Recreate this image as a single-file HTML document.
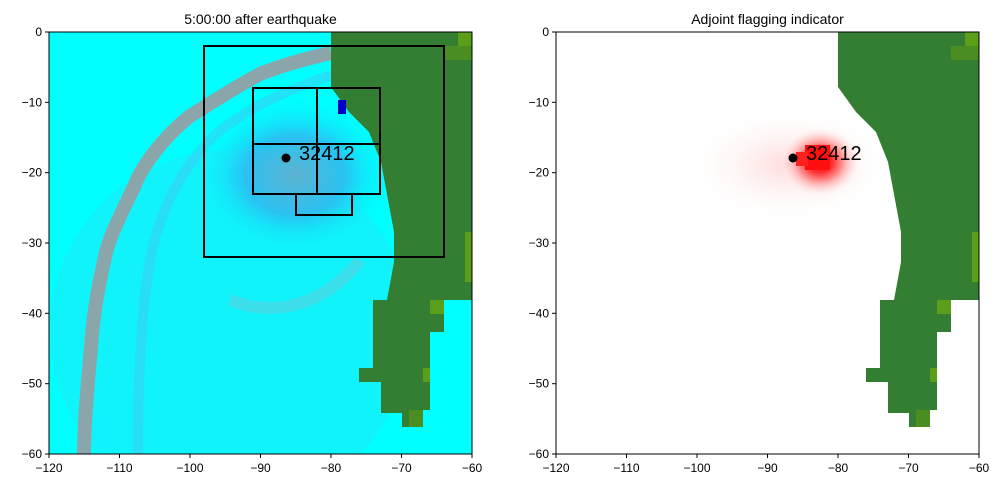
<!DOCTYPE html>
<html><head><meta charset="utf-8"><style>
body{margin:0;background:#fff;}
svg text{font-family:"Liberation Sans","DejaVu Sans",sans-serif;}
</style></head><body>
<svg width="1003" height="488" xmlns="http://www.w3.org/2000/svg">
<defs>
<clipPath id="cl"><rect x="49" y="32" width="423" height="422"/></clipPath>
<clipPath id="cr"><rect x="556" y="32" width="423" height="422"/></clipPath>
<radialGradient id="sw" cx="0.5" cy="0.5" r="0.5">
<stop offset="0" stop-color="#6aa8c8"/><stop offset="0.5" stop-color="#30b8f0"/><stop offset="1" stop-color="#00ffff" stop-opacity="0"/></radialGradient>
<radialGradient id="rb" cx="0.5" cy="0.5" r="0.5">
<stop offset="0" stop-color="#ff0000"/><stop offset="0.3" stop-color="#ff3030"/><stop offset="0.6" stop-color="#ffb0b0"/><stop offset="1" stop-color="#ffffff" stop-opacity="0"/></radialGradient>
<radialGradient id="ph" cx="0.5" cy="0.5" r="0.5">
<stop offset="0" stop-color="#ffd8d8"/><stop offset="1" stop-color="#ffffff" stop-opacity="0"/></radialGradient>
<g id="land">
<polygon fill="#347e34" points="282,0 423,0 423,268 395,268 395,300 381,300 381,378 367,378 367,395 353,395 353,381 332,381 332,350 310,350 310,336 324,336 324,268 338,268 345,230 345,200 332,130 320,100 300,80 282,55"/>
<rect x="409" y="0" width="14" height="14" fill="#5a9e1a"/>
<rect x="395" y="14" width="28" height="14" fill="#4a8e22"/>
<rect x="416" y="200" width="7" height="50" fill="#5a9e1a"/>
<rect x="381" y="268" width="14" height="14" fill="#5a9e1a"/>
<rect x="374" y="336" width="7" height="14" fill="#5a9e1a"/>
<rect x="360" y="378" width="14" height="17" fill="#4a8e22"/>
</g>
</defs>
<!-- left panel -->
<g clip-path="url(#cl)">
<rect x="49" y="32" width="423" height="422" fill="#00ffff"/>
<ellipse cx="230" cy="330" rx="180" ry="180" fill="#20e8f8" opacity="0.5"/>
<ellipse cx="295" cy="175" rx="100" ry="80" fill="url(#sw)" opacity="0.85"/>
<path d="M331,53 C300,60 280,66 260,74 C230,90 200,110 190,116 C160,140 140,170 134,187 C118,220 108,240 105,257 C95,300 92,330 91,348 C86,400 84,430 84,454" fill="none" stroke="#8aa6aa" stroke-width="14"/>
<path d="M331,75 C290,90 250,105 215,135 C180,170 160,210 150,260 C140,320 138,390 138,454" fill="none" stroke="#40c8f0" stroke-width="10" opacity="0.5"/>
<path d="M230,300 C280,320 330,300 360,260" fill="none" stroke="#80c0d0" stroke-width="12" opacity="0.4"/>
<g transform="translate(49,32)"><use href="#land"/></g>
<rect x="338" y="100" width="8" height="14" fill="#0000c8"/>
<rect x="204" y="46" width="240" height="211" fill="none" stroke="#000" stroke-width="2"/>
<rect x="253" y="88" width="127" height="106" fill="none" stroke="#000" stroke-width="2"/>
<line x1="317" y1="88" x2="317" y2="194" stroke="#000" stroke-width="2"/>
<line x1="253" y1="144" x2="380" y2="144" stroke="#000" stroke-width="2"/>
<rect x="296" y="194" width="56" height="21" fill="none" stroke="#000" stroke-width="2"/>
</g>
<circle cx="286" cy="158" r="4.5" fill="#000"/>
<text x="299" y="160" font-size="20">32412</text>
<rect x="49" y="32" width="423" height="422" fill="none" stroke="#000" stroke-width="1"/>
<text x="260.5" y="24" font-size="14" text-anchor="middle">5:00:00 after earthquake</text>
<!-- right panel -->
<g clip-path="url(#cr)">
<rect x="556" y="32" width="423" height="422" fill="#fff"/>
<ellipse cx="790" cy="165" rx="110" ry="60" fill="url(#ph)"/>
<ellipse cx="820" cy="162" rx="42" ry="36" fill="url(#rb)"/>
<rect x="805" y="145" width="25" height="25" fill="#ff1010"/>
<rect x="796" y="152" width="12" height="14" fill="#ff2020"/>
<g transform="translate(556,32)"><use href="#land"/></g>
</g>
<circle cx="793" cy="158" r="4.5" fill="#000"/>
<text x="806" y="160" font-size="20">32412</text>
<rect x="556" y="32" width="423" height="422" fill="none" stroke="#000" stroke-width="1"/>
<text x="767.5" y="24" font-size="14" text-anchor="middle">Adjoint flagging indicator</text>
<!-- ticks -->
<g font-size="12" fill="#000">
<g stroke="#000">
<line x1="49" y1="454" x2="49" y2="458"/><line x1="119.5" y1="454" x2="119.5" y2="458"/><line x1="190" y1="454" x2="190" y2="458"/><line x1="260.5" y1="454" x2="260.5" y2="458"/><line x1="331" y1="454" x2="331" y2="458"/><line x1="401.5" y1="454" x2="401.5" y2="458"/><line x1="472" y1="454" x2="472" y2="458"/>
<line x1="556" y1="454" x2="556" y2="458"/><line x1="626.5" y1="454" x2="626.5" y2="458"/><line x1="697" y1="454" x2="697" y2="458"/><line x1="767.5" y1="454" x2="767.5" y2="458"/><line x1="838" y1="454" x2="838" y2="458"/><line x1="908.5" y1="454" x2="908.5" y2="458"/><line x1="979" y1="454" x2="979" y2="458"/>
<line x1="45" y1="32" x2="49" y2="32"/><line x1="45" y1="102.3" x2="49" y2="102.3"/><line x1="45" y1="172.7" x2="49" y2="172.7"/><line x1="45" y1="243" x2="49" y2="243"/><line x1="45" y1="313.3" x2="49" y2="313.3"/><line x1="45" y1="383.7" x2="49" y2="383.7"/><line x1="45" y1="454" x2="49" y2="454"/>
<line x1="552" y1="32" x2="556" y2="32"/><line x1="552" y1="102.3" x2="556" y2="102.3"/><line x1="552" y1="172.7" x2="556" y2="172.7"/><line x1="552" y1="243" x2="556" y2="243"/><line x1="552" y1="313.3" x2="556" y2="313.3"/><line x1="552" y1="383.7" x2="556" y2="383.7"/><line x1="552" y1="454" x2="556" y2="454"/>
</g>
<g text-anchor="middle">
<text x="49" y="472">−120</text><text x="119.5" y="472">−110</text><text x="190" y="472">−100</text><text x="260.5" y="472">−90</text><text x="331" y="472">−80</text><text x="401.5" y="472">−70</text><text x="472" y="472">−60</text>
<text x="556" y="472">−120</text><text x="626.5" y="472">−110</text><text x="697" y="472">−100</text><text x="767.5" y="472">−90</text><text x="838" y="472">−80</text><text x="908.5" y="472">−70</text><text x="979" y="472">−60</text>
</g>
<g text-anchor="end">
<text x="42" y="36">0</text><text x="42" y="106.3">−10</text><text x="42" y="176.7">−20</text><text x="42" y="247">−30</text><text x="42" y="317.3">−40</text><text x="42" y="387.7">−50</text><text x="42" y="458">−60</text>
<text x="549" y="36">0</text><text x="549" y="106.3">−10</text><text x="549" y="176.7">−20</text><text x="549" y="247">−30</text><text x="549" y="317.3">−40</text><text x="549" y="387.7">−50</text><text x="549" y="458">−60</text>
</g>
</g>
</svg>
</body></html>
